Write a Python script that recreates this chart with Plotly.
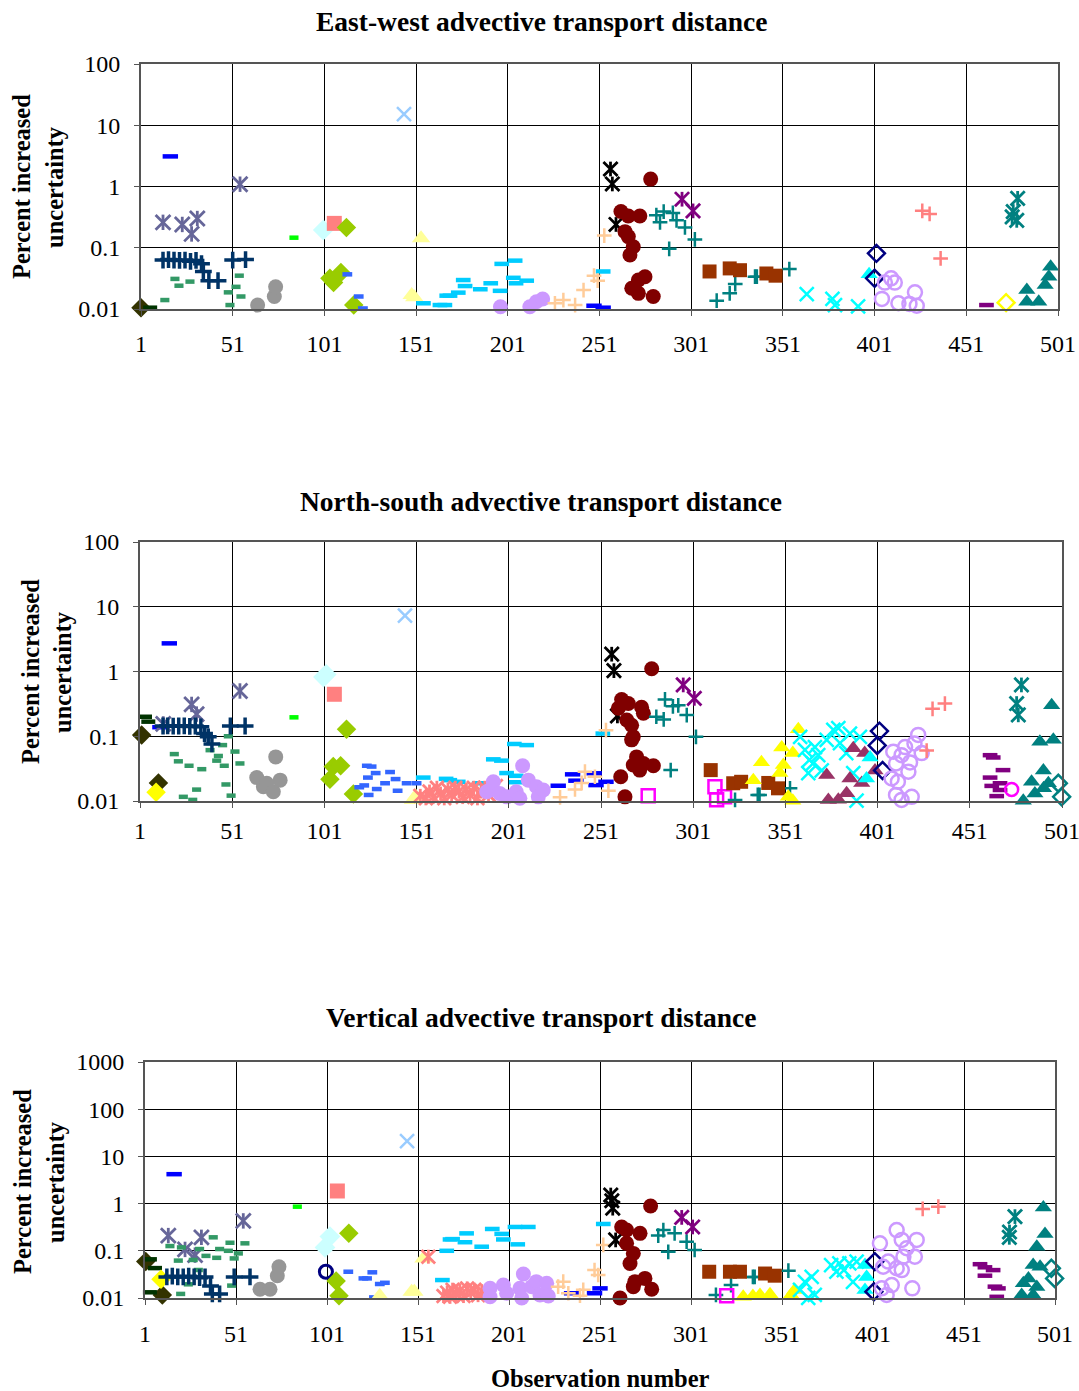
import plotly.graph_objects as go

# ------------------------------------------------------------------ data
X_TICKS = [1, 51, 101, 151, 201, 251, 301, 351, 401, 451, 501]
Y_TICKS_A = [0.01, 0.1, 1, 10, 100]
Y_TICKS_B = [0.01, 0.1, 1, 10, 100, 1000]
PANEL_TITLES = ["East-west advective transport distance",
                "North-south advective transport distance",
                "Vertical advective transport distance"]

# ---- East-west panel
ew_olive_dia_x = [1]; ew_olive_dia_y = [0.0105]
ew_dkgreen_dash_x = [6]; ew_dkgreen_dash_y = [0.0105]
ew_blue_dash_x = [17, 248, 253]; ew_blue_dash_y = [3.1, 0.0113, 0.0105]
ew_slate_ast_x = [13, 23.5, 28.6, 31.7, 55]; ew_slate_ast_y = [0.26, 0.24, 0.168, 0.30, 1.09]
ew_seagreen_dash_x = [14, 19.5, 21.7, 27.7, 48.6, 49.5, 52.8, 54.6, 55.5]
ew_seagreen_dash_y = [0.014, 0.031, 0.024, 0.028, 0.0187, 0.0116, 0.023, 0.035, 0.016]
ew_navy_plus_x = [13, 16, 19, 22, 25, 28, 31, 34, 35, 38, 43, 51, 58]
ew_navy_plus_y = [0.063, 0.064, 0.063, 0.062, 0.063, 0.06, 0.062, 0.055, 0.041, 0.029, 0.029, 0.063, 0.064]
ew_gray_circ_x = [64.6, 73.7, 74.4]; ew_gray_circ_y = [0.0116, 0.016, 0.0231]
ew_green_dash_x = [84.4]; ew_green_dash_y = [0.146]
ew_ltcyan_dia_x = [100.4]; ew_ltcyan_dia_y = [0.195]
ew_salmon_sq_x = [106.4]; ew_salmon_sq_y = [0.25]
ew_lime_dia_x = [104, 106, 110, 113, 117]; ew_lime_dia_y = [0.0317, 0.027, 0.0396, 0.215, 0.0116]
ew_royal_dash_x = [113.5, 119.7, 122]; ew_royal_dash_y = [0.0368, 0.016, 0.0102]
ew_paleblue_x_x = [144.4]; ew_paleblue_x_y = [15.2]
ew_ltyellow_tri_x = [148.6, 150, 153.7]; ew_ltyellow_tri_y = [0.0169, 0.0155, 0.143]
ew_sky_dash_x = [155, 164, 166.7, 167.7, 169.5, 174, 176.7, 177.7, 186, 191.7, 196.8, 197.7, 204, 205, 205.5, 211.3, 253]
ew_sky_dash_y = [0.0124, 0.0116, 0.0116, 0.0165, 0.0165, 0.0185, 0.0297, 0.0237, 0.021, 0.0263, 0.0198, 0.0545, 0.0323, 0.0616, 0.0263, 0.029, 0.041]
ew_lavender_circ_x = [197, 213, 216.6, 220]; ew_lavender_circ_y = [0.0109, 0.0109, 0.0131, 0.0146]
ew_tan_plus_x = [226.7, 231.3, 237.7, 242.3, 248, 250, 253.6]
ew_tan_plus_y = [0.0124, 0.014, 0.0116, 0.0204, 0.035, 0.029, 0.158]
ew_black_ast_x = [257, 258, 260]; ew_black_ast_y = [1.93, 1.1, 0.24]
ew_darkred_circ_x = [262.7, 264.9, 266.7, 266.7, 267.6, 269.4, 268.6, 272.2, 272.2, 273, 275.8, 278.9, 280.3]
ew_darkred_circ_y = [0.39, 0.183, 0.33, 0.152, 0.076, 0.104, 0.0218, 0.0297, 0.018, 0.33, 0.0337, 1.32, 0.016]
ew_teal_plus_x = [282, 284, 286, 289, 291, 293, 297.6, 303, 314.9, 322, 325, 335.8, 336.8, 354.5]
ew_teal_plus_y = [0.34, 0.26, 0.39, 0.096, 0.37, 0.28, 0.215, 0.137, 0.0137, 0.018, 0.0255, 0.0337, 0.0337, 0.0449]
ew_purple_ast_x = [296, 302]; ew_purple_ast_y = [0.62, 0.40]
ew_brown_sq_x = [311, 322, 327.6, 342, 347]; ew_brown_sq_y = [0.041, 0.046, 0.043, 0.038, 0.035]
ew_turq_x_x = [364, 378, 379.4, 392]; ew_turq_x_y = [0.0175, 0.0146, 0.0116, 0.011]
ew_turq_tri_x = [398]; ew_turq_tri_y = [0.037]
ew_navy_odia_x = [401, 402]; ew_navy_odia_y = [0.0317, 0.081]
ew_lav_ocirc_x = [405, 406.6, 410, 412, 414, 420, 423, 424]
ew_lav_ocirc_y = [0.0146, 0.027, 0.0317, 0.027, 0.0124, 0.0121, 0.0187, 0.0113]
ew_salmon_plus_x = [427, 431, 437]; ew_salmon_plus_y = [0.40, 0.356, 0.067]
ew_purple_dash_x = [462]; ew_purple_dash_y = [0.0116]
ew_yellow_odia_x = [472.7]; ew_yellow_odia_y = [0.0127]
ew_teal_ast_x = [476, 476.6, 478.5, 479]; ew_teal_ast_y = [0.32, 0.39, 0.28, 0.64]
ew_teal_tri_x = [484, 484, 490.5, 494, 496, 497]; ew_teal_tri_y = [0.0204, 0.0131, 0.0131, 0.0247, 0.0337, 0.049]

# ---- North-south panel
ns_olive_dia_x = [1.9, 11]; ns_olive_dia_y = [0.105, 0.019]
ns_dkgreen_dash_x = [3.7, 5.5]; ns_dkgreen_dash_y = [0.2, 0.168]
ns_yellow_dia_x = [9.7]; ns_yellow_dia_y = [0.0136]
ns_blue_dash_x = [11.8, 16.9, 227.8, 235.6, 237.4, 247.3, 248.3, 253.7]
ns_blue_dash_y = [0.138, 2.72, 0.0172, 0.0258, 0.0206, 0.0268, 0.0176, 0.0198]
ns_slate_ast_x = [13.6, 29, 31.7, 55.2]; ns_slate_ast_y = [0.155, 0.31, 0.22, 0.5]
ns_seagreen_dash_x = [19.6, 21.8, 24.5, 27.6, 29.6, 31.7, 34.5, 39, 42.6, 43.5, 45.8, 46.7, 47.6, 48.9, 50.4, 52.5, 55.2]
ns_seagreen_dash_y = [0.053, 0.041, 0.0116, 0.035, 0.0104, 0.015, 0.031, 0.061, 0.042, 0.0496, 0.073, 0.035, 0.018, 0.1, 0.0121, 0.058, 0.038]
ns_navy_plus_x = [13.5, 16, 19, 22, 25, 28, 31, 34, 36, 38, 40, 50, 58]
ns_navy_plus_y = [0.144, 0.145, 0.143, 0.144, 0.145, 0.142, 0.144, 0.14, 0.11, 0.098, 0.076, 0.144, 0.144]
ns_gray_circ_x = [64.3, 67.9, 69.7, 73.3, 74.6, 77]; ns_gray_circ_y = [0.023, 0.0166, 0.0188, 0.0139, 0.048, 0.021]
ns_green_dash_x = [84.5]; ns_green_dash_y = [0.196]
ns_ltcyan_dia_x = [100.5, 102]; ns_ltcyan_dia_y = [0.82, 0.9]
ns_salmon_sq_x = [106.4]; ns_salmon_sq_y = [0.445]
ns_lime_dia_x = [104, 105.8, 109.8, 113, 116.7]; ns_lime_dia_y = [0.0216, 0.034, 0.035, 0.128, 0.0128]
ns_royal_dash_x = [119.9, 122.6, 124, 124.6, 125, 126.6, 128.8, 129.4, 133.9, 136.6, 139.6, 140.7, 145.6, 151]
ns_royal_dash_y = [0.0163, 0.0174, 0.035, 0.023, 0.0124, 0.034, 0.027, 0.0153, 0.0188, 0.028, 0.0218, 0.0144, 0.0188, 0.0188]
ns_paleblue_x_x = [144.7]; ns_paleblue_x_y = [7.3]
ns_ltyellow_tri_x = [149, 150.5]; ns_ltyellow_tri_y = [0.0104, 0.0118]
ns_sky_dash_x = [154.6, 167, 169, 173.6, 185, 192.6, 197, 199.8, 204, 205, 205, 210.7, 252]
ns_sky_dash_y = [0.023, 0.022, 0.021, 0.0198, 0.0188, 0.044, 0.042, 0.027, 0.076, 0.0245, 0.0195, 0.073, 0.11]
ns_salmon_ast_x = [153, 156, 158, 160, 162, 164, 166, 168, 170, 172, 174, 176, 178, 180, 182, 184, 186, 188, 190, 192, 194]
ns_salmon_ast_y = [0.012, 0.011, 0.014, 0.0115, 0.016, 0.013, 0.011, 0.015, 0.0125, 0.016, 0.014, 0.0115, 0.015, 0.0125, 0.016, 0.011, 0.014, 0.016, 0.0125, 0.015, 0.017]
ns_lavender_circ_x = [189, 190.8, 192.6, 196, 199.9, 205, 207, 208.5, 211.6, 216, 217, 219.7]
ns_lavender_circ_y = [0.0139, 0.0148, 0.0198, 0.0131, 0.0116, 0.0139, 0.011, 0.035, 0.021, 0.0166, 0.0116, 0.0148]
ns_tan_plus_x = [228.8, 236.9, 240.5, 242.3, 247.7, 253.7, 255]
ns_tan_plus_y = [0.0114, 0.0151, 0.019, 0.0284, 0.0237, 0.124, 0.0144]
ns_black_ast_x = [256.8, 258, 259.9]; ns_black_ast_y = [1.85, 1.03, 0.206]
ns_darkred_circ_x = [260.4, 261.7, 262.2, 264, 265, 265.8, 267.6, 267.6, 268.5, 268.5, 270.3, 272, 273, 274, 274, 278.5, 279.4]
ns_darkred_circ_y = [0.27, 0.0237, 0.37, 0.0116, 0.178, 0.32, 0.148, 0.088, 0.098, 0.036, 0.048, 0.030, 0.28, 0.226, 0.038, 1.1, 0.035]
ns_magenta_osq_x = [276.6, 312.8, 313.7, 318]; ns_magenta_osq_y = [0.012, 0.0166, 0.0105, 0.0116]
ns_teal_plus_x = [281, 285, 285.7, 288.8, 290, 292.9, 297.5, 302.5, 323.7, 336, 337, 353.5]
ns_teal_plus_y = [0.2, 0.182, 0.37, 0.030, 0.29, 0.30, 0.212, 0.098, 0.0104, 0.0124, 0.0124, 0.0157]
ns_purple_ast_x = [295.6, 301.6]; ns_purple_ast_y = [0.62, 0.385]
ns_brown_sq_x = [310.5, 322.7, 327, 341.7, 347]; ns_brown_sq_y = [0.030, 0.0188, 0.0198, 0.019, 0.0157]
ns_yellow_tri_x = [333.6, 338, 348, 349, 349.9, 352.6, 355, 355, 358]
ns_yellow_tri_y = [0.021, 0.0395, 0.027, 0.067, 0.036, 0.0116, 0.055, 0.0101, 0.128]
ns_turq_x_x = [359, 361.6, 363.4, 364, 366, 367, 368.8, 370.7, 373.4, 377, 379.7, 380.6, 384, 386, 387.8, 389.6, 391.4]
ns_turq_x_y = [0.098, 0.0615, 0.027, 0.043, 0.038, 0.068, 0.051, 0.0296, 0.0876, 0.125, 0.133, 0.078, 0.055, 0.11, 0.027, 0.0101, 0.098]
ns_plum_tri_x = [373.4, 374.3, 379.7, 384.2, 386, 387.8, 392.4, 394, 399.6]
ns_plum_tri_y = [0.0252, 0.0104, 0.0105, 0.0132, 0.0223, 0.065, 0.019, 0.055, 0.0296]
ns_turq_tri_x = [395, 396.9]; ns_turq_tri_y = [0.0223, 0.047]
ns_navy_odia_x = [400.8, 402, 403.7]; ns_navy_odia_y = [0.072, 0.12, 0.0296]
ns_lav_ocirc_x = [408.6, 409.5, 411, 411, 412, 414, 414, 415.9, 417.7, 418.6, 419.5, 421, 423, 424.9]
ns_lav_ocirc_y = [0.0223, 0.0577, 0.038, 0.0124, 0.0198, 0.051, 0.0104, 0.068, 0.0284, 0.0394, 0.0116, 0.0776, 0.105, 0.055]
ns_salmon_plus_x = [427.6, 430.8, 437.5]; ns_salmon_plus_y = [0.06, 0.265, 0.32]
ns_purple_dash_x = [462, 462, 462.9, 463.7, 465.6, 467.4, 467.4, 469]
ns_purple_dash_y = [0.051, 0.023, 0.0171, 0.047, 0.0119, 0.0188, 0.0148, 0.030]
ns_magenta_ocirc_x = [473.7]; ns_magenta_ocirc_y = [0.0151]
ns_teal_ast_x = [476.4, 477.3, 479]; ns_teal_ast_y = [0.32, 0.214, 0.62]
ns_teal_tri_x = [480, 484.5, 486.3, 489, 490.9, 491, 493.6, 495.4, 496.3]
ns_teal_tri_y = [0.0101, 0.0198, 0.0131, 0.082, 0.0296, 0.0157, 0.0188, 0.30, 0.088]
ns_teal_odia_x = [499, 500.8]; ns_teal_odia_y = [0.0188, 0.0116]

# ---- Vertical panel
vt_olive_dia_x = [1.4, 10.5]; vt_olive_dia_y = [0.059, 0.0116]
vt_dkgreen_dash_x = [3.7, 6.5, 3.7]; vt_dkgreen_dash_y = [0.066, 0.043, 0.0132]
vt_yellow_dia_x = [9.8]; vt_yellow_dia_y = [0.025]
vt_blue_dash_x = [17, 235.4, 248, 251]; vt_blue_dash_y = [4.2, 0.0126, 0.0126, 0.016]
vt_slate_ast_x = [13.8, 23, 28.5, 32, 55]; vt_slate_ast_y = [0.21, 0.107, 0.081, 0.193, 0.43]
vt_seagreen_dash_x = [14.7, 19.3, 20.6, 21, 24.8, 27.5, 30.3, 31, 34.5, 38.5, 40.4, 42, 46.8, 47.7, 48.6, 50, 52.3, 55.9]
vt_seagreen_dash_y = [0.126, 0.062, 0.0122, 0.118, 0.0195, 0.064, 0.0392, 0.109, 0.078, 0.193, 0.071, 0.109, 0.1, 0.148, 0.0183, 0.069, 0.088, 0.144]
vt_navy_plus_x = [13, 16, 19, 22, 25, 28, 31, 34, 37, 38, 42, 50, 58.7]
vt_navy_plus_y = [0.028, 0.029, 0.028, 0.028, 0.029, 0.028, 0.027, 0.028, 0.018, 0.0122, 0.0122, 0.028, 0.028]
vt_gray_circ_x = [64.2, 69.7, 73.7, 74.6]; vt_gray_circ_y = [0.0153, 0.0153, 0.0297, 0.046]
vt_green_dash_x = [84.7]; vt_green_dash_y = [0.86]
vt_ltcyan_dia_x = [99.9, 102.6]; vt_ltcyan_dia_y = [0.118, 0.2]
vt_salmon_sq_x = [106.7]; vt_salmon_sq_y = [1.85]
vt_navy_ocirc_x = [100.4]; vt_navy_ocirc_y = [0.036]
vt_lime_dia_x = [106, 107.6, 113]; vt_lime_dia_y = [0.023, 0.0112, 0.234]
vt_royal_dash_x = [112.7, 121, 123, 125.9, 126.8, 130, 132.8]
vt_royal_dash_y = [0.036, 0.026, 0.026, 0.035, 0.0103, 0.0198, 0.021]
vt_paleblue_x_x = [145]; vt_paleblue_x_y = [21]
vt_ltyellow_tri_x = [130, 147.5, 149, 154]; vt_ltyellow_tri_y = [0.0112, 0.0136, 0.0136, 0.069]
vt_salmon_ast_x = [156.7, 165, 167, 168.6, 170, 172, 174, 176, 178, 180, 182, 184, 186]
vt_salmon_ast_y = [0.075, 0.011, 0.013, 0.0106, 0.015, 0.012, 0.0145, 0.011, 0.016, 0.013, 0.015, 0.0115, 0.014]
vt_sky_dash_x = [164.4, 166.8, 168.6, 170, 176.8, 177.7, 186, 191.8, 197, 197.9, 204.3, 205.8, 211.6, 252.8]
vt_sky_dash_y = [0.024, 0.1, 0.174, 0.177, 0.152, 0.234, 0.122, 0.29, 0.228, 0.174, 0.32, 0.137, 0.32, 0.37]
vt_lavender_circ_x = [190.6, 190.6, 197.9, 199.7, 207, 208, 208.9, 213.5, 216, 218, 221.7, 222.6]
vt_lavender_circ_y = [0.016, 0.0106, 0.0188, 0.0126, 0.016, 0.01, 0.0323, 0.0174, 0.0222, 0.0116, 0.0205, 0.011]
vt_tan_plus_x = [228, 230.8, 233.6, 240, 241.8, 248, 250, 252.8]
vt_tan_plus_y = [0.0174, 0.0222, 0.0126, 0.0112, 0.0149, 0.0392, 0.0307, 0.133]
vt_black_ast_x = [256.9, 257.5, 258, 259.6]; vt_black_ast_y = [1.52, 1.15, 0.8, 0.17]
vt_darkred_circ_x = [262, 262.9, 265.6, 265.6, 267.5, 269.3, 269.3, 270.2, 273, 275.7, 278.8, 279.4]
vt_darkred_circ_y = [0.01, 0.32, 0.275, 0.144, 0.054, 0.088, 0.0174, 0.0222, 0.234, 0.026, 0.89, 0.0153]
vt_teal_plus_x = [283, 285.8, 288.5, 292, 298.6, 303, 314.7, 323, 335, 336, 354.5]
vt_teal_plus_y = [0.21, 0.275, 0.095, 0.234, 0.156, 0.104, 0.0116, 0.0188, 0.028, 0.028, 0.038]
vt_purple_ast_x = [295.9, 301.9]; vt_purple_ast_y = [0.51, 0.32]
vt_magenta_osq_x = [320.6]; vt_magenta_osq_y = [0.0112]
vt_brown_sq_x = [311, 322.4, 327.9, 341.7, 347]; vt_brown_sq_y = [0.036, 0.036, 0.036, 0.033, 0.0297]
vt_yellow_tri_x = [329.7, 335, 338.9, 344.4, 356, 358]; vt_yellow_tri_y = [0.0106, 0.011, 0.0116, 0.012, 0.0116, 0.0148]
vt_turq_x_x = [360.9, 363.6, 365.4, 367.3, 369, 378, 380.9, 382.5, 385, 388, 390, 392]
vt_turq_x_y = [0.0148, 0.022, 0.0101, 0.028, 0.0116, 0.05, 0.036, 0.054, 0.039, 0.054, 0.022, 0.059]
vt_turq_tri_x = [396.6, 397.5, 396.6]; vt_turq_tri_y = [0.05, 0.028, 0.0148]
vt_navy_odia_x = [401.5, 402]; vt_navy_odia_y = [0.0136, 0.059]
vt_lav_ocirc_x = [404.8, 405.8, 406.6, 408.5, 409.4, 411.3, 414, 414, 416.8, 416.8, 417.7, 419.5, 422.6, 424, 425]
vt_lav_ocirc_y = [0.144, 0.016, 0.046, 0.0116, 0.059, 0.0188, 0.275, 0.0426, 0.17, 0.039, 0.075, 0.113, 0.016, 0.075, 0.17]
vt_salmon_plus_x = [428.3, 436.9]; vt_salmon_plus_y = [0.77, 0.86]
vt_purple_dash_x = [459.8, 462.5, 462.5, 467, 468, 469, 469.9]
vt_purple_dash_y = [0.052, 0.0447, 0.0297, 0.039, 0.0174, 0.0106, 0.016]
vt_teal_ast_x = [475.9, 476, 479]; vt_teal_ast_y = [0.193, 0.25, 0.53]
vt_teal_tri_x = [482.7, 483.6, 486.4, 489, 489, 491, 491, 492.8, 494.6, 495.5]
vt_teal_tri_y = [0.0116, 0.0205, 0.026, 0.05, 0.0116, 0.122, 0.017, 0.046, 0.83, 0.227]
vt_teal_odia_x = [499, 500.8]; vt_teal_odia_y = [0.0426, 0.026]

EW = [("olive_dia", ew_olive_dia_x, ew_olive_dia_y), ("dkgreen_dash", ew_dkgreen_dash_x, ew_dkgreen_dash_y),
      ("blue_dash", ew_blue_dash_x, ew_blue_dash_y), ("slate_ast", ew_slate_ast_x, ew_slate_ast_y),
      ("seagreen_dash", ew_seagreen_dash_x, ew_seagreen_dash_y), ("navy_plus", ew_navy_plus_x, ew_navy_plus_y),
      ("gray_circ", ew_gray_circ_x, ew_gray_circ_y), ("green_dash", ew_green_dash_x, ew_green_dash_y),
      ("ltcyan_dia", ew_ltcyan_dia_x, ew_ltcyan_dia_y), ("salmon_sq", ew_salmon_sq_x, ew_salmon_sq_y),
      ("lime_dia", ew_lime_dia_x, ew_lime_dia_y), ("royal_dash", ew_royal_dash_x, ew_royal_dash_y),
      ("paleblue_x", ew_paleblue_x_x, ew_paleblue_x_y), ("ltyellow_tri", ew_ltyellow_tri_x, ew_ltyellow_tri_y),
      ("sky_dash", ew_sky_dash_x, ew_sky_dash_y), ("lavender_circ", ew_lavender_circ_x, ew_lavender_circ_y),
      ("tan_plus", ew_tan_plus_x, ew_tan_plus_y), ("black_ast", ew_black_ast_x, ew_black_ast_y),
      ("darkred_circ", ew_darkred_circ_x, ew_darkred_circ_y), ("teal_plus", ew_teal_plus_x, ew_teal_plus_y),
      ("purple_ast", ew_purple_ast_x, ew_purple_ast_y), ("brown_sq", ew_brown_sq_x, ew_brown_sq_y),
      ("turq_x", ew_turq_x_x, ew_turq_x_y), ("turq_tri", ew_turq_tri_x, ew_turq_tri_y),
      ("navy_odia", ew_navy_odia_x, ew_navy_odia_y), ("lav_ocirc", ew_lav_ocirc_x, ew_lav_ocirc_y),
      ("salmon_plus", ew_salmon_plus_x, ew_salmon_plus_y), ("purple_dash", ew_purple_dash_x, ew_purple_dash_y),
      ("yellow_odia", ew_yellow_odia_x, ew_yellow_odia_y), ("teal_ast", ew_teal_ast_x, ew_teal_ast_y),
      ("teal_tri", ew_teal_tri_x, ew_teal_tri_y)]

NS = [("olive_dia", ns_olive_dia_x, ns_olive_dia_y), ("dkgreen_dash", ns_dkgreen_dash_x, ns_dkgreen_dash_y),
      ("yellow_dia", ns_yellow_dia_x, ns_yellow_dia_y), ("blue_dash", ns_blue_dash_x, ns_blue_dash_y),
      ("slate_ast", ns_slate_ast_x, ns_slate_ast_y), ("seagreen_dash", ns_seagreen_dash_x, ns_seagreen_dash_y),
      ("navy_plus", ns_navy_plus_x, ns_navy_plus_y), ("gray_circ", ns_gray_circ_x, ns_gray_circ_y),
      ("green_dash", ns_green_dash_x, ns_green_dash_y), ("ltcyan_dia", ns_ltcyan_dia_x, ns_ltcyan_dia_y),
      ("salmon_sq", ns_salmon_sq_x, ns_salmon_sq_y), ("lime_dia", ns_lime_dia_x, ns_lime_dia_y),
      ("royal_dash", ns_royal_dash_x, ns_royal_dash_y), ("paleblue_x", ns_paleblue_x_x, ns_paleblue_x_y),
      ("ltyellow_tri", ns_ltyellow_tri_x, ns_ltyellow_tri_y), ("sky_dash", ns_sky_dash_x, ns_sky_dash_y),
      ("salmon_ast", ns_salmon_ast_x, ns_salmon_ast_y), ("lavender_circ", ns_lavender_circ_x, ns_lavender_circ_y),
      ("tan_plus", ns_tan_plus_x, ns_tan_plus_y), ("black_ast", ns_black_ast_x, ns_black_ast_y),
      ("darkred_circ", ns_darkred_circ_x, ns_darkred_circ_y), ("magenta_osq", ns_magenta_osq_x, ns_magenta_osq_y),
      ("teal_plus", ns_teal_plus_x, ns_teal_plus_y), ("purple_ast", ns_purple_ast_x, ns_purple_ast_y),
      ("brown_sq", ns_brown_sq_x, ns_brown_sq_y), ("yellow_tri", ns_yellow_tri_x, ns_yellow_tri_y),
      ("turq_x", ns_turq_x_x, ns_turq_x_y), ("plum_tri", ns_plum_tri_x, ns_plum_tri_y),
      ("turq_tri", ns_turq_tri_x, ns_turq_tri_y), ("navy_odia", ns_navy_odia_x, ns_navy_odia_y),
      ("lav_ocirc", ns_lav_ocirc_x, ns_lav_ocirc_y), ("salmon_plus", ns_salmon_plus_x, ns_salmon_plus_y),
      ("purple_dash", ns_purple_dash_x, ns_purple_dash_y), ("magenta_ocirc", ns_magenta_ocirc_x, ns_magenta_ocirc_y),
      ("teal_ast", ns_teal_ast_x, ns_teal_ast_y), ("teal_tri", ns_teal_tri_x, ns_teal_tri_y),
      ("teal_odia", ns_teal_odia_x, ns_teal_odia_y)]

VT = [("olive_dia", vt_olive_dia_x, vt_olive_dia_y), ("dkgreen_dash", vt_dkgreen_dash_x, vt_dkgreen_dash_y),
      ("yellow_dia", vt_yellow_dia_x, vt_yellow_dia_y), ("blue_dash", vt_blue_dash_x, vt_blue_dash_y),
      ("slate_ast", vt_slate_ast_x, vt_slate_ast_y), ("seagreen_dash", vt_seagreen_dash_x, vt_seagreen_dash_y),
      ("navy_plus", vt_navy_plus_x, vt_navy_plus_y), ("gray_circ", vt_gray_circ_x, vt_gray_circ_y),
      ("green_dash", vt_green_dash_x, vt_green_dash_y), ("ltcyan_dia", vt_ltcyan_dia_x, vt_ltcyan_dia_y),
      ("salmon_sq", vt_salmon_sq_x, vt_salmon_sq_y), ("navy_ocirc", vt_navy_ocirc_x, vt_navy_ocirc_y),
      ("lime_dia", vt_lime_dia_x, vt_lime_dia_y), ("royal_dash", vt_royal_dash_x, vt_royal_dash_y),
      ("paleblue_x", vt_paleblue_x_x, vt_paleblue_x_y), ("ltyellow_tri", vt_ltyellow_tri_x, vt_ltyellow_tri_y),
      ("salmon_ast", vt_salmon_ast_x, vt_salmon_ast_y), ("sky_dash", vt_sky_dash_x, vt_sky_dash_y),
      ("lavender_circ", vt_lavender_circ_x, vt_lavender_circ_y), ("tan_plus", vt_tan_plus_x, vt_tan_plus_y),
      ("black_ast", vt_black_ast_x, vt_black_ast_y), ("darkred_circ", vt_darkred_circ_x, vt_darkred_circ_y),
      ("teal_plus", vt_teal_plus_x, vt_teal_plus_y), ("purple_ast", vt_purple_ast_x, vt_purple_ast_y),
      ("magenta_osq", vt_magenta_osq_x, vt_magenta_osq_y), ("brown_sq", vt_brown_sq_x, vt_brown_sq_y),
      ("yellow_tri", vt_yellow_tri_x, vt_yellow_tri_y), ("turq_x", vt_turq_x_x, vt_turq_x_y),
      ("turq_tri", vt_turq_tri_x, vt_turq_tri_y), ("navy_odia", vt_navy_odia_x, vt_navy_odia_y),
      ("lav_ocirc", vt_lav_ocirc_x, vt_lav_ocirc_y), ("salmon_plus", vt_salmon_plus_x, vt_salmon_plus_y),
      ("purple_dash", vt_purple_dash_x, vt_purple_dash_y), ("teal_ast", vt_teal_ast_x, vt_teal_ast_y),
      ("teal_tri", vt_teal_tri_x, vt_teal_tri_y), ("teal_odia", vt_teal_odia_x, vt_teal_odia_y)]

# ------------------------------------------------------------------ styles
# kind: fill = filled marker, open = outline marker, dash = short bar, star = Excel 6-arm asterisk
# (cross-thin / line symbols in plotly extend 1.4x their nominal size; x-thin extends 1x)
STYLE = {
    "olive_dia": ("fill", "diamond", "#333300", 15, 0),
    "dkgreen_dash": ("dash", "line-ew", "#003300", 10, 4.5),
    "yellow_dia": ("fill", "diamond", "#FFFF00", 15, 0),
    "blue_dash": ("dash", "line-ew", "#0000FF", 11, 4.5),
    "slate_ast": ("star", None, "#666699", 11, 2.8),
    "seagreen_dash": ("dash", "line-ew", "#339966", 6.5, 4.5),
    "navy_plus": ("open", "cross-thin-open", "#003366", 12, 3.5),
    "gray_circ": ("fill", "circle", "#969696", 15, 0),
    "green_dash": ("dash", "line-ew", "#00FF00", 6.5, 4.5),
    "ltcyan_dia": ("fill", "diamond", "#CCFFFF", 16, 0),
    "salmon_sq": ("fill", "square", "#FF8080", 15, 0),
    "lime_dia": ("fill", "diamond", "#99CC00", 15, 0),
    "navy_ocirc": ("open", "circle-open", "#000080", 13, 3),
    "royal_dash": ("dash", "line-ew", "#3366FF", 7, 4.5),
    "paleblue_x": ("open", "x-thin-open", "#99CCFF", 14, 2.5),
    "ltyellow_tri": ("fill", "triangle-up", "#FFFF99", 16, 0),
    "sky_dash": ("dash", "line-ew", "#00CCFF", 10.5, 4.5),
    "salmon_ast": ("star", None, "#FF8080", 10, 2.8),
    "lavender_circ": ("fill", "circle", "#CC99FF", 15, 0),
    "tan_plus": ("open", "cross-thin-open", "#FFCC99", 10.5, 2.5),
    "black_ast": ("star", None, "#000000", 10.5, 2.8),
    "darkred_circ": ("fill", "circle", "#800000", 15, 0),
    "magenta_osq": ("open", "square-open", "#FF00FF", 13, 2.5),
    "teal_plus": ("open", "cross-thin-open", "#008080", 10.5, 2.5),
    "purple_ast": ("star", None, "#800080", 10.5, 2.8),
    "brown_sq": ("fill", "square", "#993300", 14, 0),
    "yellow_tri": ("fill", "triangle-up", "#FFFF00", 15, 0),
    "turq_x": ("open", "x-thin-open", "#00FFFF", 14, 2.5),
    "plum_tri": ("fill", "triangle-up", "#993366", 15, 0),
    "turq_tri": ("fill", "triangle-up", "#00FFFF", 15, 0),
    "navy_odia": ("open", "diamond-open", "#000080", 13, 2.5),
    "lav_ocirc": ("open", "circle-open", "#CC99FF", 14, 2.5),
    "salmon_plus": ("open", "cross-thin-open", "#FF8080", 10.5, 2.5),
    "purple_dash": ("dash", "line-ew", "#800080", 10.5, 4.5),
    "yellow_odia": ("open", "diamond-open", "#FFFF00", 13, 2.5),
    "magenta_ocirc": ("open", "circle-open", "#FF00FF", 13, 2.5),
    "teal_ast": ("star", None, "#008080", 10.5, 2.8),
    "teal_tri": ("fill", "triangle-up", "#008080", 15, 0),
    "teal_odia": ("open", "diamond-open", "#008080", 13, 2.5),
}

FONT = "Times New Roman, Liberation Serif, serif"
W, H = 1079, 1391

# panel plot areas in pixels: (left, right, top, bottom)
AREAS = [(141, 1058, 64, 309), (140, 1062, 542, 801), (145, 1055, 1062, 1298)]

fig = go.Figure()


def add_series(data, axn):
    xa, ya = ("x", "y") if axn == 1 else (f"x{axn}", f"y{axn}")
    for key, xs, ys in data:
        kind, sym, col, size, lw = STYLE[key]
        common = dict(x=xs, y=ys, mode="markers", xaxis=xa, yaxis=ya,
                      showlegend=False, cliponaxis=False, hoverinfo="x+y")
        if kind == "fill":
            fig.add_trace(go.Scatter(**common, marker=dict(symbol=sym, color=col, size=size,
                                                           line=dict(width=0))))
        elif kind in ("open", "dash"):
            fig.add_trace(go.Scatter(**common, marker=dict(symbol=sym, color=col, size=size,
                                                           line=dict(width=lw, color=col))))
        else:  # star: X + vertical bar
            fig.add_trace(go.Scatter(**common, marker=dict(symbol="x-thin-open", color=col, size=size * 1.35,
                                                           line=dict(width=lw, color=col))))
            fig.add_trace(go.Scatter(**common, marker=dict(symbol="line-ns-open", color=col, size=size,
                                                           line=dict(width=lw, color=col))))


add_series(EW, 1)
add_series(NS, 2)
add_series(VT, 3)


def xaxis(i, standoff):
    l, r, t, b = AREAS[i]
    return dict(domain=[l / W, r / W], anchor="y" if i == 0 else f"y{i+1}",
                range=[1, 501], tickvals=X_TICKS, ticktext=[str(v) for v in X_TICKS],
                showgrid=True, gridcolor="#000000", gridwidth=1, zeroline=False,
                showline=True, linecolor="#555555", linewidth=2, mirror=True,
                ticks="outside", ticklen=5, tickcolor="#555555", tickwidth=1,
                tickfont=dict(family=FONT, size=24, color="black"),
                ticklabelstandoff=standoff, ticklabeloverflow="allow",
                automargin=False, fixedrange=True)


def yaxis(i, ticks):
    l, r, t, b = AREAS[i]
    top = 2 if len(ticks) == 5 else 3
    return dict(domain=[1 - b / H, 1 - t / H], anchor="x" if i == 0 else f"x{i+1}",
                type="log", range=[-2, top], tickvals=ticks, ticktext=[f"{v:g}" for v in ticks],
                showgrid=True, gridcolor="#000000", gridwidth=1, zeroline=False,
                showline=True, linecolor="#555555", linewidth=2, mirror=True,
                ticks="outside", ticklen=5, tickcolor="#555555", tickwidth=1,
                tickfont=dict(family=FONT, size=24, color="black"),
                ticklabelstandoff=9, ticklabeloverflow="allow",
                automargin=False, fixedrange=True)


annotations = []
title_y = [21, 501, 1017]
for i, t in enumerate(PANEL_TITLES):
    annotations.append(dict(text=f"<b>{t}</b>", x=541 / W, y=1 - title_y[i] / H, xref="paper", yref="paper",
                            xanchor="center", yanchor="middle", showarrow=False,
                            font=dict(family=FONT, size=27.5, color="black")))
ylab = [(22, 55, 187), (30, 62, 672), (22, 55, 1182)]
for x1, x2, yc in ylab:
    for xx, txt in ((x1, "Percent increased"), (x2, "uncertainty")):
        annotations.append(dict(text=f"<b>{txt}</b>", x=xx / W, y=1 - yc / H, xref="paper", yref="paper",
                                xanchor="center", yanchor="middle", showarrow=False, textangle=-90,
                                font=dict(family=FONT, size=24.5, color="black")))
annotations.append(dict(text="<b>Observation number</b>", x=600 / W, y=1 - 1378 / H, xref="paper", yref="paper",
                        xanchor="center", yanchor="middle", showarrow=False,
                        font=dict(family=FONT, size=24.5, color="black")))

fig.update_layout(
    width=W, height=H, margin=dict(l=0, r=0, t=0, b=0, pad=0),
    paper_bgcolor="white", plot_bgcolor="white", showlegend=False,
    xaxis=xaxis(0, 7), xaxis2=xaxis(1, 2), xaxis3=xaxis(2, 8),
    yaxis=yaxis(0, Y_TICKS_A), yaxis2=yaxis(1, Y_TICKS_A), yaxis3=yaxis(2, Y_TICKS_B),
    annotations=annotations,
)

fig.write_html("out.html", config={"displayModeBar": False},
               post_script="document.body.style.margin='0';")
